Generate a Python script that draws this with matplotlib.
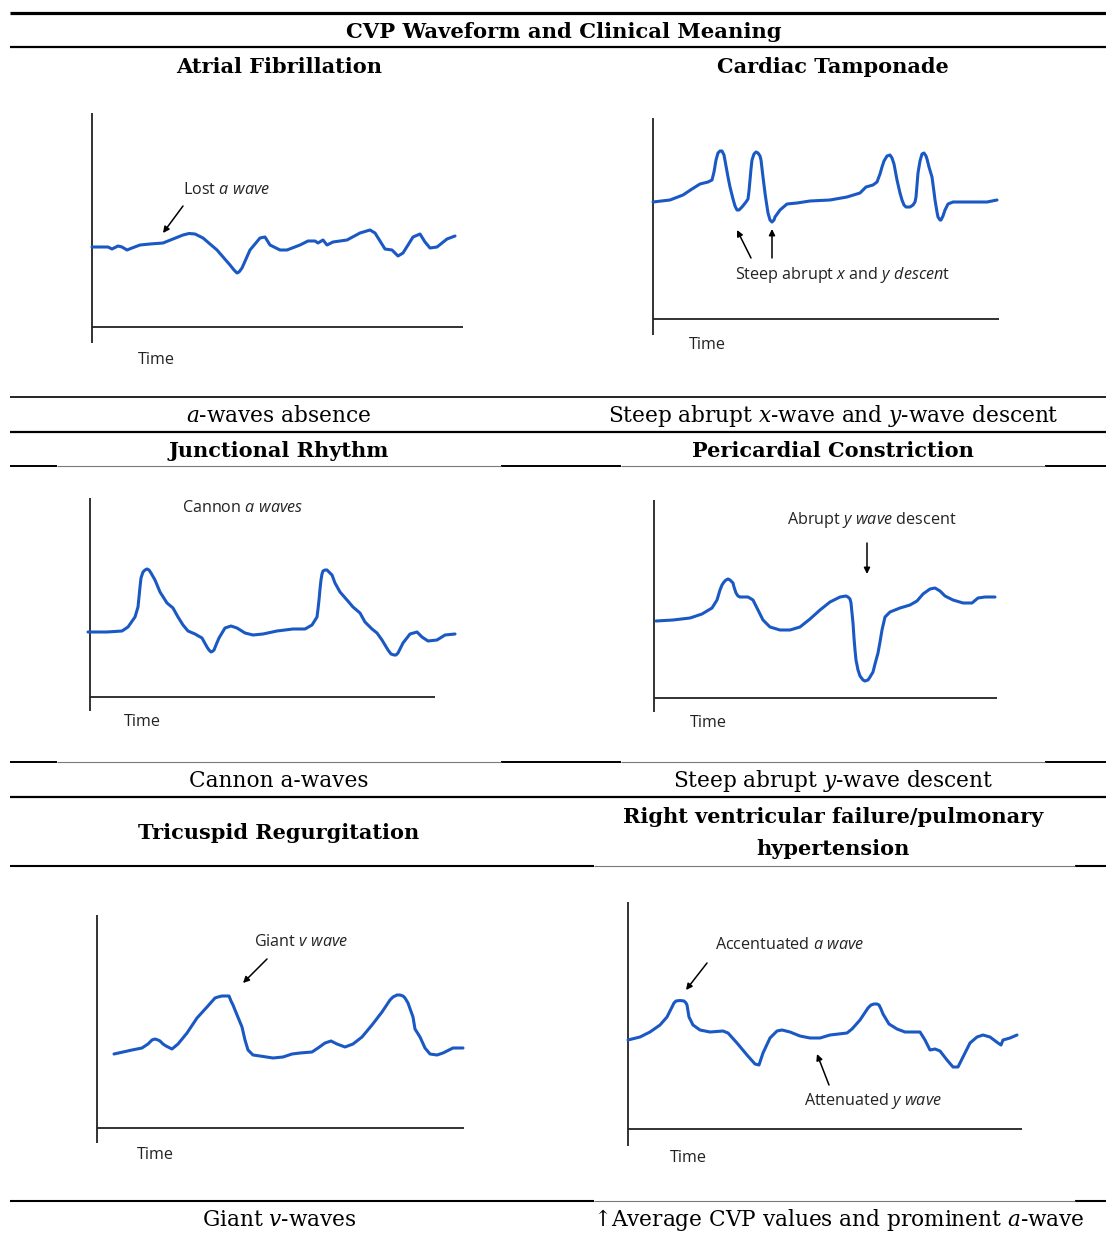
import matplotlib
matplotlib.use('Agg')
import matplotlib.pyplot as plt

W, H = 1106, 1234

# ---- waveform traces: (time, level) in px measured from each panel's axis corner ----
af_t = [0, 16, 20, 26, 30, 35, 40, 48, 58, 71, 81, 91, 97, 103, 111, 125, 138, 142, 145, 147,
        150, 154, 158, 168, 173, 178, 188, 195, 208, 216, 223, 226, 231, 235, 241, 255, 268, 278,
        283, 293, 300, 306, 311, 321, 328, 333, 338, 345, 355, 363]
af_v = [80, 80, 78, 81, 80, 77, 79, 82, 83, 84, 88, 92, 93.5, 93, 89, 77, 62, 57, 54, 55,
        59, 68, 77, 89, 90, 82, 77, 77, 82, 86, 86, 84, 87, 82, 85, 87, 94, 97,
        94, 78, 77, 71, 74, 90, 93, 85, 79, 80, 88, 91]

ct_t = [0, 17, 30, 39, 47, 55, 59, 61, 63, 65, 67, 69, 71, 73, 75, 77, 80, 82, 84, 86,
        89, 93, 95, 96, 97, 98, 99, 101, 103, 105, 107, 108, 110, 112, 113, 115, 117, 119, 121, 122,
        127, 134, 144, 157, 177, 194, 207, 213, 220, 224, 227, 229, 231, 234, 237, 239, 241, 244,
        247, 249, 251, 253, 257, 260, 262, 263, 264, 265, 267, 269, 271, 273, 274, 276, 279, 281,
        282, 284, 285, 287, 288, 290, 292, 295, 300, 317, 334, 344]
ct_v = [117, 119, 124, 130, 135, 137, 139, 147, 159, 166, 168, 168, 164, 153, 142, 132, 120, 113, 109, 109,
        112, 117, 120, 128, 139, 150, 159, 165, 167, 166, 163, 159, 142, 126, 119, 106, 99, 97, 99, 102,
        109, 115, 116, 118, 119, 122, 126, 132, 134, 137, 145, 152, 158, 163, 164, 161, 155, 139,
        126, 119, 114, 112, 112, 114, 117, 122, 134, 146, 158, 165, 166, 163, 160, 152, 142, 127,
        119, 107, 102, 99, 99, 103, 109, 115, 117, 117, 117, 119]

jr_t = [-2, 17, 32, 38, 45, 48, 49, 50, 51, 53, 55, 57, 59, 61, 65, 70, 77, 83, 88, 93,
        98, 105, 112, 117, 119, 121, 123, 124, 126, 129, 135, 141, 147, 155, 163, 173, 187, 203,
        215, 222, 227, 228, 229, 230, 231, 232, 233, 235, 237, 239, 242, 245, 250, 257, 263, 270,
        275, 282, 287, 292, 298, 301, 304, 306, 308, 310, 313, 320, 327, 332, 338, 347, 355, 365]
jr_v = [65, 65, 66, 70, 80, 90, 100, 110, 119, 125, 127, 128, 127, 124, 117, 105, 94, 89, 80, 72,
        66, 63, 59, 50, 47, 45, 46, 47, 52, 59, 69, 71, 69, 64, 62, 63, 66, 68,
        68, 72, 80, 88, 97, 108, 117, 123, 126, 127, 127, 125, 122, 114, 105, 97, 90, 84,
        75, 68, 64, 57, 47, 43, 42, 42, 44, 48, 54, 63, 65, 60, 56, 57, 62, 63]

pc_t = [2, 19, 36, 48, 58, 63, 66, 68, 70, 72, 74, 76, 79, 80, 82, 84, 86, 94, 99, 104,
        109, 116, 126, 136, 146, 156, 166, 176, 186, 192, 194, 196, 197, 199, 200, 201, 202, 204,
        206, 209, 211, 214, 216, 219, 221, 224, 226, 228, 231, 236, 246, 256, 263, 269, 276, 281,
        286, 291, 299, 309, 318, 324, 331, 341]
pc_v = [77, 78, 80, 84, 90, 98, 108, 113, 116, 118, 119, 118, 115, 111, 105, 102, 101, 101, 98, 88,
        78, 71, 68, 68, 71, 79, 88, 96, 101, 102, 101, 99, 95, 75, 60, 48, 38, 28,
        22, 18, 17, 18, 21, 26, 34, 45, 56, 68, 81, 86, 90, 93, 97, 104, 109, 110,
        107, 102, 98, 95, 95, 100, 101, 101]

tr_t = [17, 26, 35, 45, 51, 55, 58, 61, 63, 66, 69, 75, 81, 90, 100, 110, 118, 121, 125, 129,
        132, 134, 136, 138, 145, 148, 151, 156, 163, 176, 186, 195, 203, 215, 221, 228, 234, 240,
        248, 256, 265, 275, 285, 293, 296, 300, 303, 306, 308, 311, 316, 318, 323, 328, 333, 340,
        346, 356, 366]
tr_v = [74, 76, 78, 80, 84, 88, 89, 88, 87, 84, 82, 79, 84, 95, 110, 121, 130, 131, 132, 132,
        132, 127, 123, 118, 101, 88, 78, 73, 72, 70, 71, 74, 75, 76, 80, 85, 87, 84,
        81, 84, 91, 103, 116, 128, 131, 133, 133, 132, 130, 125, 111, 99, 91, 80, 74, 73,
        75, 80, 80]

rv_t = [0, 12, 22, 32, 39, 44, 46, 48, 52, 56, 58, 59, 60, 61, 65, 72, 82, 95, 100, 109,
        119, 127, 131, 135, 142, 149, 154, 162, 172, 182, 192, 202, 219, 224, 232, 240, 243, 246,
        249, 251, 253, 255, 261, 269, 277, 292, 297, 302, 307, 312, 319, 325, 330, 335, 342, 349,
        355, 362, 370, 373, 375, 382, 389]
rv_v = [89, 92, 97, 104, 112, 122, 126, 128, 128.5, 128, 126, 124, 118, 112, 104, 99, 97, 98, 96, 86,
        74, 65, 64, 76, 91, 98, 99, 97, 93, 91, 91, 94, 96, 100, 109, 121, 124, 125,
        125, 124, 120, 115, 105, 100, 97, 97, 89, 79, 80, 78, 69, 62, 62, 72, 86, 92,
        94, 92, 86, 84, 89, 91, 94]

# ---- table text ----
title = "CVP Waveform and Clinical Meaning"
conditions = ["Atrial Fibrillation", "Cardiac Tamponade",
              "Junctional Rhythm", "Pericardial Constriction",
              "Tricuspid Regurgitation", "Right ventricular failure/pulmonary\nhypertension"]
meanings = [r"$\mathit{a}$-waves absence", r"Steep abrupt $\mathit{x}$-wave and $\mathit{y}$-wave descent",
            "Cannon a-waves", r"Steep abrupt $\mathit{y}$-wave descent",
            r"Giant $\mathit{v}$-waves", r"↑Average CVP values and prominent $\mathit{a}$-wave"]

plt.rcParams['mathtext.fontset'] = 'custom'
plt.rcParams['mathtext.rm'] = 'Open Sans'
plt.rcParams['mathtext.it'] = 'Open Sans:italic'

fig = plt.figure(figsize=(W / 100, H / 100), dpi=100)

# overlay in pixel units for the table rules and cell text
tab = fig.add_axes([0, 0, 1, 1])
tab.set_xlim(0, W)
tab.set_ylim(H, 0)
tab.axis('off')

thick = [(13, 10, W, 2.3), (47, 10, W, 1.6), (397, 10, W, 1.2), (432, 10, W, 1.6),
         (466, 10, 57, 1.4), (466, 501, 621, 1.4), (466, 1045, W, 1.4),
         (762, 10, 57, 1.4), (762, 501, 621, 1.4), (762, 1045, W, 1.4),
         (797, 10, W, 1.6), (866, 10, 594, 1.5), (866, 1075, W, 1.5),
         (1201, 10, 594, 1.5), (1201, 1075, W, 1.5)]
thin = [(466, 57, 501), (466, 621, 1045), (762, 57, 501), (762, 621, 1045),
        (866, 594, 1075), (1201, 594, 1075)]
for y, a, b, lw in thick:
    tab.plot([a, b], [y, y], color='black', lw=lw, solid_capstyle='butt')
for y, a, b in thin:
    tab.plot([a, b], [y, y], color='#7a7a7a', lw=0.8, solid_capstyle='butt')

serif = ['DejaVu Serif', 'DejaVu Sans']
tab.text(564, 32, title, ha='center', va='center', fontsize=15.2, fontweight='bold', family=serif)
head_xy = [(279, 67), (833, 67), (279, 451), (833, 451), (279, 833), (833, 833)]
mean_xy = [(279, 416), (833, 416), (279, 781), (833, 781), (279, 1220), (839, 1220)]
for s, (x, y) in zip(conditions, head_xy):
    tab.text(x, y, s, ha='center', va='center', fontsize=15, fontweight='bold',
             family=serif, linespacing=1.75)
for s, (x, y) in zip(meanings, mean_xy):
    tab.text(x, y, s, ha='center', va='center', fontsize=15.6, family=serif,
             math_fontfamily='dejavuserif')


def panel(x0, y0, ylo, yhi, xlen):
    # axes where one unit = one pixel, origin at the drawn axis corner
    ax = fig.add_axes([(x0 - 30) / W, 1 - (y0 + 45) / H, 460 / W, 290 / H])
    ax.set_xlim(-30, 430)
    ax.set_ylim(-45, 245)
    ax.axis('off')
    ax.plot([0, 0], [ylo, yhi], color='#222222', lw=1.3, solid_capstyle='butt')
    ax.plot([0, xlen], [0, 0], color='#222222', lw=1.3, solid_capstyle='butt')
    return ax


blue = '#1a58c4'
sans = dict(family='Open Sans', fontsize=11.6, color='#222222', math_fontfamily='custom')
arw = dict(arrowstyle='-|>', color='black', lw=1.1, mutation_scale=9, shrinkA=0, shrinkB=0)


def wave(ax, t, v, tx, ty):
    ax.plot(t, v, color=blue, lw=2.2, solid_joinstyle='round', solid_capstyle='round')
    ax.text(tx, ty, 'Time', ha='center', va='center', **sans)


ax = panel(92, 327, -16, 214, 371)
wave(ax, af_t, af_v, 64, -33)
ax.text(91, 137, r'Lost $\mathit{a\ wave}$', ha='left', va='center', **sans)
ax.annotate('', xy=(71, 94), xytext=(91, 121), arrowprops=arw)

ax = panel(653, 319, -16, 201, 346)
wave(ax, ct_t, ct_v, 54, -26)
ax.text(82, 44, r'Steep abrupt $\mathit{x}$ and $\mathit{y\ descen}$t', ha='left', va='center', **sans)
ax.annotate('', xy=(84, 89), xytext=(98, 61), arrowprops=arw)
ax.annotate('', xy=(119, 90), xytext=(119, 61), arrowprops=arw)

ax = panel(90, 697, -14, 199, 345)
wave(ax, jr_t, jr_v, 52, -25)
ax.text(92, 189, r'Cannon $\mathit{a\ waves}$', ha='left', va='center', **sans)

ax = panel(654, 698, -14, 198, 343)
wave(ax, pc_t, pc_v, 54, -25)
ax.text(133, 178, r'Abrupt $\mathit{y\ wave}$ descent', ha='left', va='center', **sans)
ax.annotate('', xy=(213, 124), xytext=(213, 155), arrowprops=arw)

ax = panel(97, 1128, -15, 213, 367)
wave(ax, tr_t, tr_v, 58, -27)
ax.text(157, 186, r'Giant $\mathit{v\ wave}$', ha='left', va='center', **sans)
ax.annotate('', xy=(146, 145), xytext=(170, 169), arrowprops=arw)

ax = panel(628, 1129, -17, 227, 394)
wave(ax, rv_t, rv_v, 60, -29)
ax.text(87, 184, r'Accentuated $\mathit{a\ wave}$', ha='left', va='center', **sans)
ax.annotate('', xy=(58, 139), xytext=(79, 166), arrowprops=arw)
ax.text(176, 28, r'Attenuated $\mathit{y\ wave}$', ha='left', va='center', **sans)
ax.annotate('', xy=(189, 75), xytext=(201, 44), arrowprops=arw)

fig.savefig('out.png', dpi=100)
